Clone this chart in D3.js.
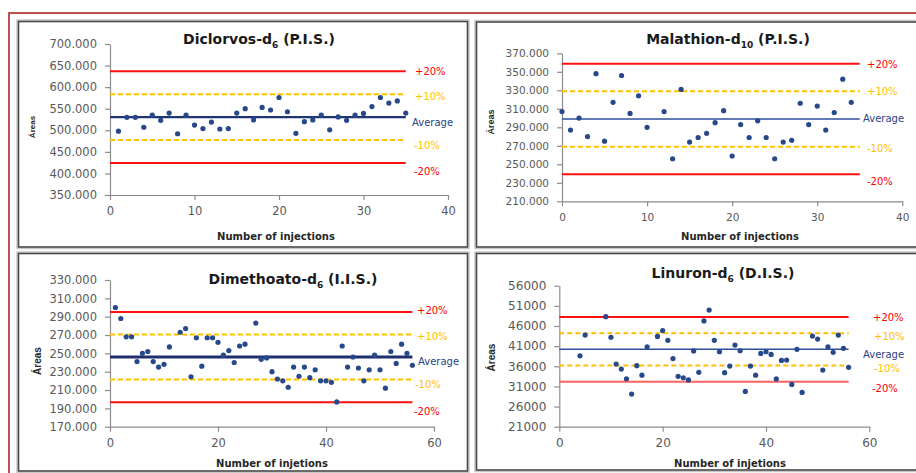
<!DOCTYPE html>
<html>
<head>
<meta charset="utf-8">
<script src="https://cdn.jsdelivr.net/npm/d3@7"></script>
<style>
  body { margin: 0; background: #fff; }
  svg { display: block; }
</style>
</head>
<body>
<svg id="chart" width="916" height="473"></svg>
<script>
// ---- Diclorvos-d6 (P.I.S.) ----
const dicInj = [1,2,3,4,5,6,7,8,9,10,11,12,13,14,15,16,17,18,19,20,21,22,23,24,25,26,27,28,29,30,31,32,33,34,35];
const dicAreas = [498000,530000,530000,507000,535000,523000,540000,492000,535000,512000,504000,519000,503000,504000,540000,
  550000,524000,553000,547000,576000,543000,493000,520000,524000,535000,501000,531000,523000,535000,539000,555000,576000,563000,568000,540000];
const dicAverage = 530500;
const dicYTicks = [350000,400000,450000,500000,550000,600000,650000,700000];

// ---- Malathion-d10 (P.I.S.) ----
const malInj = [0,1,2,3,4,5,6,7,8,9,10,12,13,14,15,16,17,18,19,20,21,22,23,24,25,26,27,28,29,30,31,32,33,34];
const malAreas = [307000,287000,300000,280000,348000,275000,317000,346000,305000,324000,290000,307000,256000,331000,274000,279000,
  283500,295000,308000,259000,293000,279000,297000,279000,256000,274000,276000,316000,293000,313000,287000,306000,342000,317000];
const malAverage = 299000;
const malYTicks = [210000,230000,250000,270000,290000,310000,330000,350000,370000];

// ---- Dimethoato-d6 (I.I.S.) ----
const dimInj = [1,2,3,4,5,6,7,8,9,10,11,13,14,15,16,17,18,19,20,21,22,23,24,25,27,28,29,30,31,32,33,34,35,36,37,38,39,40,
  41,42,43,44,45,46,47,48,49,50,51,52,53,54,55,56];
const dimAreas = [300000,288000,268000,268000,241000,250000,252000,241000,235000,238000,257000,273000,277000,224500,267000,236000,
  267000,267000,262000,248000,253000,240000,258000,260000,283000,243500,245000,230000,222000,220000,213000,235000,225000,235000,
  223500,232000,220000,220000,218400,197000,258000,235000,246000,234000,220000,232000,248000,232000,212000,252000,239000,260000,250000,237000];
const dimAverage = 246000;
const dimYTicks = [170000,190000,210000,230000,250000,270000,290000,310000,330000];

// ---- Linuron-d6 (D.I.S.) ----
const linInj = [4,5,9,10,11,12,13,14,15,16,17,19,20,21,22,23,24,25,26,27,28,29,30,31,32,33,34,35,36,37,38,39,40,41,42,43,44,
  45,46,47,49,50,51,52,53,54,55,56];
const linAreas = [38600,43750,48300,43200,36550,35300,32900,29100,36150,33800,40850,43400,44850,42450,37900,33500,33150,32600,
  39800,34500,47250,49950,42450,39600,34400,36050,41250,39850,29750,36050,33800,39200,39600,38950,32850,37450,37550,31500,40200,
  29500,43500,42750,35050,40850,39450,43750,40450,35750];
const linAverage = 40200;
const linYTicks = [21000,26000,31000,36000,41000,46000,51000,56000];

// shared
const xTicks40 = [0,10,20,30,40];
const xTicks60 = [0,20,40,60];
const refFactors = [1.2, 1.1, 1.0, 0.9, 0.8];
const refLabels = ["+20%", "+10%", "Average", "-10%", "-20%"];

const esLocale = d3.formatLocale({decimal: ",", thousands: ".", grouping: [3], currency: ["", ""]});
const fmtThousands = esLocale.format(",.0f");
const fmtPlain = d3.format("d");

const RED = "#ff1010", GOLD = "#ffc000", NAVY = "#1f3470", DOT = "#27498c", AXIS = "#8c8c8c", TICKTXT = "#595959";

const panels = [
  { title: "Diclorvos-d", sub: "6", tail: " (P.I.S.)", titleX: 259, titleY: 44,
    xs: dicInj, ys: dicAreas, avg: dicAverage, lineEnd: 35,
    xDomain: [0, 40], xTicks: xTicks40, yDomain: [350000, 700000], yTicks: dicYTicks, fmt: fmtThousands, tickFont: 11.5,
    frame: {x: 18.5, y: 21.5, w: 449, h: 225.5},
    plot: {left: 110, right: 448, top: 44, bottom: 195},
    xTitle: "Number of injections", xTitleX: 276, xTitleY: 240,
    yTitleX: 32, yTitleY: 127, yTitleSize: 8,
    avgWidth: 2.2, avgColor: "#1f3470",
    labelX: [415, 415, 412, 414, 414], labelDy: [0, 2, 5, 5, 9], redColors: [RED, RED] },
  { title: "Malathion-d", sub: "10", tail: " (P.I.S.)", titleX: 728, titleY: 44,
    xs: malInj, ys: malAreas, avg: malAverage, lineEnd: 35,
    xDomain: [0, 40], xTicks: xTicks40, yDomain: [210000, 370000], yTicks: malYTicks, fmt: fmtThousands, tickFont: 10.5,
    frame: {x: 476.5, y: 22, w: 460, h: 225},
    plot: {left: 562, right: 902.3, top: 53.3, bottom: 201.3},
    xTitle: "Number of injections", xTitleX: 740, xTitleY: 240,
    yTitleX: 491, yTitleY: 122, yTitleSize: 9,
    avgWidth: 1.5, avgColor: "#2f4f9c",
    labelX: [867, 867, 863, 867, 867], labelDy: [1, 0, 0, 2, 7], redColors: [RED, RED] },
  { title: "Dimethoato-d", sub: "6", tail: " (I.I.S.)", titleX: 293, titleY: 284,
    xs: dimInj, ys: dimAreas, avg: dimAverage, lineEnd: 56,
    xDomain: [0, 60], xTicks: xTicks60, yDomain: [170000, 330000], yTicks: dimYTicks, fmt: fmtThousands, tickFont: 11.5,
    frame: {x: 18.5, y: 253.5, w: 449, h: 217.5},
    plot: {left: 110, right: 434, top: 280, bottom: 426.7},
    xTitle: "Number of injetions", xTitleX: 272, xTitleY: 466.5,
    yTitleX: 37, yTitleY: 361, yTitleSize: 10,
    avgWidth: 3, avgColor: "#1f2f6e",
    labelX: [417, 417, 418, 415, 414], labelDy: [-1.5, 2, 4, 5, 9], redColors: [RED, RED] },
  { title: "Linuron-d", sub: "6", tail: " (D.I.S.)", titleX: 723, titleY: 278,
    xs: linInj, ys: linAreas, avg: linAverage, lineEnd: 56,
    xDomain: [0, 60], xTicks: xTicks60, yDomain: [21000, 56000], yTicks: linYTicks, fmt: fmtPlain, tickFont: 12,
    frame: {x: 476.5, y: 253.5, w: 460, h: 216.5},
    plot: {left: 559.3, right: 869.3, top: 285.7, bottom: 426.7},
    xTitle: "Number of injetions", xTitleX: 730, xTitleY: 467,
    yTitleX: 491.5, yTitleY: 357.5, yTitleSize: 10,
    avgWidth: 1.5, avgColor: "#2f4f9c",
    labelX: [873, 874, 863, 874, 872], labelDy: [1, 3, 5, 3, 7], redColors: [RED, "#ff6060"] }
];

const svg = d3.select("#chart");

// outer page frame
svg.append("rect")
  .attr("x", 9).attr("y", 13).attr("width", 940).attr("height", 480)
  .attr("fill", "none").attr("stroke", "#c0504d").attr("stroke-width", 2);

panels.forEach(p => {
  const g = svg.append("g");

  // panel frame: soft grey halo with a dark line on it
  g.append("rect")
    .attr("x", p.frame.x - 1.5).attr("y", p.frame.y - 1.5)
    .attr("width", p.frame.w + 3).attr("height", p.frame.h + 3)
    .attr("fill", "none").attr("stroke", "#c8c8c8").attr("stroke-width", 1.5);
  g.append("rect")
    .attr("x", p.frame.x).attr("y", p.frame.y)
    .attr("width", p.frame.w).attr("height", p.frame.h)
    .attr("fill", "#fff").attr("stroke", "#474747").attr("stroke-width", 1.6);

  const x = d3.scaleLinear().domain(p.xDomain).range([p.plot.left, p.plot.right]);
  const y = d3.scaleLinear().domain(p.yDomain).range([p.plot.bottom, p.plot.top]);

  // axes
  const gx = g.append("g")
    .attr("transform", `translate(0,${p.plot.bottom})`)
    .call(d3.axisBottom(x).tickValues(p.xTicks).tickFormat(fmtPlain)
      .tickSize(5).tickSizeOuter(0).tickPadding(7));
  const gy = g.append("g")
    .attr("transform", `translate(${p.plot.left},0)`)
    .call(d3.axisLeft(y).tickValues(p.yTicks).tickFormat(p.fmt)
      .tickSize(5).tickSizeOuter(0).tickPadding(8));
  [gx, gy].forEach(a => {
    a.select(".domain").attr("stroke", AXIS).attr("stroke-width", 1.2);
    a.selectAll(".tick line").attr("stroke", AXIS).attr("stroke-width", 1.2);
    a.selectAll(".tick text")
      .attr("fill", TICKTXT)
      .attr("font-family", "DejaVu Sans, sans-serif")
      .attr("font-size", p.tickFont);
  });

  // control lines: ±20 % (solid red), ±10 % (dashed gold), average (navy)
  const x0 = x(0), x1 = x(p.lineEnd);
  refFactors.forEach((f, i) => {
    const yy = y(p.avg * f);
    const line = g.append("line")
      .attr("x1", x0).attr("x2", x1).attr("y1", yy).attr("y2", yy);
    if (i === 0 || i === 4) {
      line.attr("stroke", i === 0 ? p.redColors[0] : p.redColors[1]).attr("stroke-width", 2);
    } else if (i === 2) {
      line.attr("stroke", p.avgColor).attr("stroke-width", p.avgWidth);
    } else {
      line.attr("stroke", GOLD).attr("stroke-width", 2).attr("stroke-dasharray", "5,3");
    }
    g.append("text")
      .attr("x", p.labelX[i]).attr("y", yy + p.labelDy[i])
      .attr("dominant-baseline", "central")
      .attr("font-family", "DejaVu Sans, sans-serif")
      .attr("font-size", 10)
      .attr("fill", i === 2 ? "#2a3f86" : (i === 0 || i === 4 ? "#ff0000" : GOLD))
      .text(refLabels[i]);
  });

  // injections
  g.append("g").selectAll("circle")
    .data(p.xs.map((v, i) => [v, p.ys[i]]))
    .join("circle")
    .attr("cx", d => x(d[0])).attr("cy", d => y(d[1]))
    .attr("r", 2.6).attr("fill", DOT);

  // title with subscript
  const t = g.append("text")
    .attr("x", p.titleX).attr("y", p.titleY)
    .attr("text-anchor", "middle")
    .attr("font-family", "DejaVu Sans, sans-serif")
    .attr("font-weight", "bold").attr("font-size", 14)
    .attr("fill", "#1a1a1a");
  t.append("tspan").text(p.title);
  t.append("tspan").attr("font-size", 9).attr("dy", 4).text(p.sub);
  t.append("tspan").attr("dy", -4).text(p.tail);

  // axis titles
  g.append("text")
    .attr("x", p.xTitleX).attr("y", p.xTitleY)
    .attr("text-anchor", "middle")
    .attr("font-family", "DejaVu Sans, sans-serif")
    .attr("font-weight", "bold").attr("font-size", 10)
    .attr("fill", "#262626")
    .text(p.xTitle);
  g.append("text")
    .attr("transform", `translate(${p.yTitleX},${p.yTitleY}) rotate(-90)`)
    .attr("text-anchor", "middle").attr("dominant-baseline", "central")
    .attr("font-family", "Liberation Sans, Arial, sans-serif")
    .attr("font-weight", "bold").attr("font-size", p.yTitleSize)
    .attr("fill", "#262626")
    .text("Áreas");
});
</script>
</body>
</html>
